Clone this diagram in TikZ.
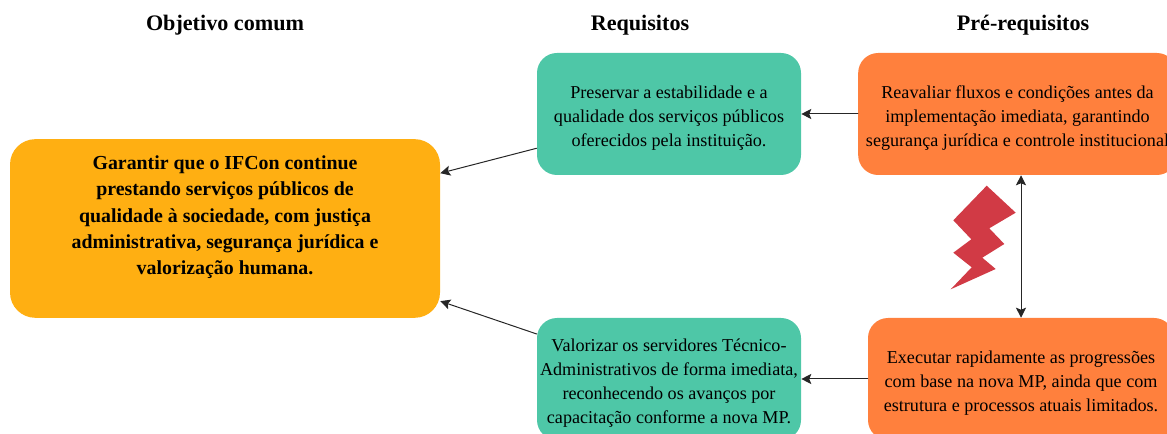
\documentclass[tikz,border=0pt]{standalone}
\usepackage{fontspec}
\setmainfont{Liberation Serif}
\usetikzlibrary{arrows.meta}
\definecolor{goalorange}{RGB}{255,175,18}
\definecolor{reqgreen}{RGB}{78,199,167}
\definecolor{preorange}{RGB}{255,128,61}
\definecolor{boltred}{RGB}{209,58,69}
\newcommand{\topstrut}{\rule{0pt}{15pt}}
\tikzset{
  head/.style={font=\bfseries\fontsize{16.6}{20}\selectfont},
  box/.style={rounded corners=15pt,align=center,inner sep=0pt,font=\fontsize{13.6}{18}\selectfont},
  goalbox/.style={box,rounded corners=19pt,fill=goalorange,minimum width=322.5pt,minimum height=134pt,font=\bfseries\fontsize{14.9}{19.8}\selectfont},
  reqbox/.style={box,fill=reqgreen,minimum width=198pt,minimum height=91.5pt},
  prebox/.style={box,fill=preorange,minimum height=91.5pt},
  link/.style={line width=0.75pt,draw=black!85},
}
\begin{document}
\begin{tikzpicture}[line cap=round,line join=round,>={Stealth[length=7.5pt,width=7.5pt,inset=1.5pt]},x=0.75pt,y=-0.75pt]
            \useasboundingbox (0,0) rectangle (1167,434);
            \clip (0,0) rectangle (1167,434);
            \node [head] (headgoal) at (225,25) {Objetivo comum};
            \node [head] (headreq) at (640,25) {Requisitos};
            \node [head] (headpre) at (1023,25) {Pré-requisitos};
            \node [goalbox] (goal) at (225,228.5) {Garantir que o IFCon continue\\prestando serviços públicos de\\qualidade à sociedade, com justiça\\administrativa, segurança jurídica e\\valorização humana.\\\mbox{}};
            \node [reqbox] (reqa) at (669,114) {\topstrut Preservar a estabilidade e a\\qualidade dos serviços públicos\\oferecidos pela instituição.};
            \node [reqbox] (reqb) at (669,379) {\topstrut Valorizar os servidores Técnico-\\Administrativos de forma imediata,\\reconhecendo os avanços por\\capacitação conforme a nova MP.};
            \node [prebox,minimum width=239pt] (prea) at (1017.5,114) {\topstrut Reavaliar fluxos e condições antes da\\implementação imediata, garantindo\\segurança jurídica e controle institucional};
            \node [prebox,minimum width=229.5pt] (preb) at (1021,379) {\topstrut Executar rapidamente as progressões\\com base na nova MP, ainda que com\\estrutura e processos atuais limitados.};
            \fill [boltred] (986.7,185.7) -- (1015.7,212.7) -- (989.3,228.3) -- (1004.3,244) -- (982.3,257.7) -- (995.7,269) -- (950.7,289.3) -- (971.7,267.3) -- (953.3,252.7) -- (971.3,239.3) -- (953.3,220.3) -- cycle;
            \draw [->,link] (prea) -- (reqa);
            \draw [->,link] (preb) -- (reqb);
            \draw [->,link] (reqa) -- (goal);
            \draw [->,link] (reqb) -- (goal);
            \draw [<->,link] (preb.north) -- (preb.north |- prea.south);
\end{tikzpicture}
\end{document}
